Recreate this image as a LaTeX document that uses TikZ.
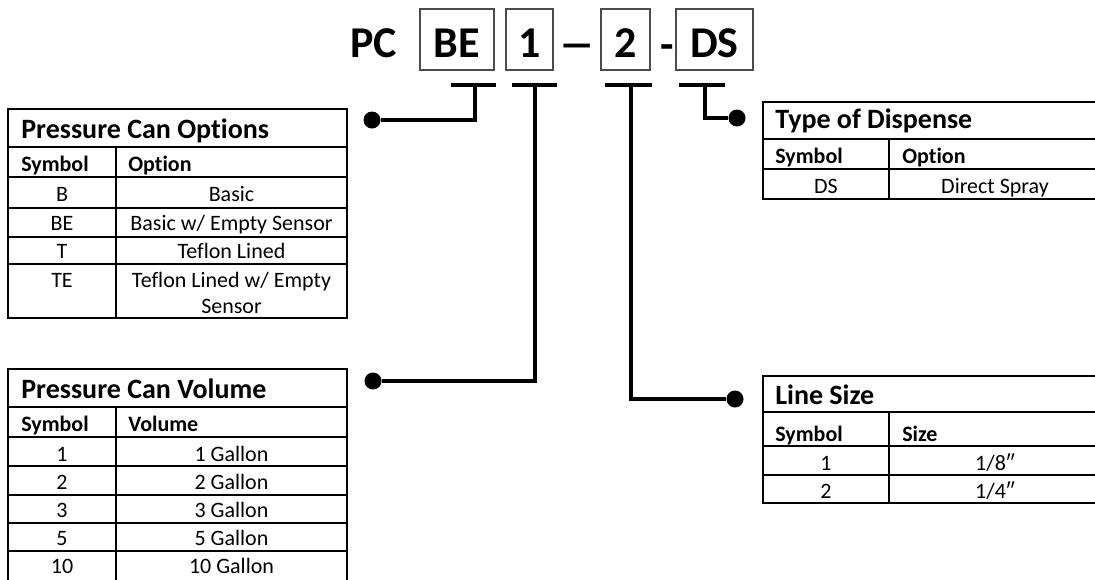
\documentclass[tikz,border=0pt]{standalone}
\usepackage{fontspec}
\setmainfont{Carlito}[Ligatures={NoCommon}]
\usepackage{tikz}

\begin{document}
\begin{tikzpicture}[x=0.75pt,y=-0.75pt,
    code/.style={draw=black!70,line width=1.3pt,inner sep=0pt,minimum height=45.75pt,
      text height=27pt,text depth=0pt,font=\fontsize{33}{36}\selectfont\bfseries},
    codetext/.style={anchor=base,inner sep=0pt,font=\fontsize{33}{36}\selectfont\bfseries},
    conn/.style={line width=3pt},
    dot/.style={circle,fill=black,inner sep=0pt,minimum size=12.75pt},
    frame/.style={line width=2pt},
    rule/.style={line width=1.8pt},
    thin/.style={line width=1.1pt},
    tabtitle/.style={anchor=base west,inner sep=0pt,font=\fontsize{21}{24}\selectfont\bfseries},
    tabhead/.style={anchor=base west,inner sep=0pt,font=\fontsize{16.5}{20}\selectfont\bfseries},
    cell/.style={anchor=base,inner sep=0pt,font=\fontsize{16.5}{20}\selectfont}]
    \path[use as bounding box,clip] (0,0) rectangle (1095,579);

    \node[codetext] (pc) at (373.5,57) {PC};
    \node[code,minimum width=55.5pt] (be) at (457,39.5) {BE};
    \node[code,minimum width=35.25pt] (vol) at (529.5,39.5) {1};
    \node[codetext] (dash1) at (577.5,58.5) {\scalebox{1.7}[1]{–}};
    \node[code,minimum width=36.75pt] (size) at (625.5,39.5) {2};
    \node[codetext] (dash2) at (667,59) {-};
    \node[code,minimum width=57.75pt] (disp) at (714.5,39.5) {DS};

    \node[dot] (dotopt) at (372,120) {};
    \node[dot] (dotvol) at (373,381) {};
    \node[dot] (dotdisp) at (737,118) {};
    \node[dot] (dotsize) at (735,399) {};

    \coordinate (bel) at (451,85);
    \coordinate (ber) at (496,85);
    \coordinate (bem) at (475,85);
    \coordinate (voll) at (512,85);
    \coordinate (volr) at (557,85);
    \coordinate (volm) at (535,85);
    \coordinate (sizel) at (605,85);
    \coordinate (sizer) at (652,85);
    \coordinate (sizem) at (631,85);
    \coordinate (displ) at (679,85);
    \coordinate (dispr) at (725,85);
    \coordinate (dispm) at (705,85);

    \draw[conn] (bel) -- (ber);
    \draw[conn] (bem) |- (dotopt);
    \draw[conn] (voll) -- (volr);
    \draw[conn] (volm) |- (dotvol);
    \draw[conn] (sizel) -- (sizer);
    \draw[conn] (sizem) |- (dotsize);
    \draw[conn] (displ) -- (dispr);
    \draw[conn] (dispm) |- (dotdisp);

    \draw[frame] (8,109) rectangle (347,318);
    \draw[rule] (8,147) -- (347,147);
    \draw[rule] (8,177) -- (347,177);
    \foreach \y in {208,237,264}
        \draw[thin] (8,\y) -- (347,\y);
    \draw[thin] (116,147) -- (116,318);
    \node[tabtitle] (opt-title) at (21,138) {Pressure Can Options};
    \node[tabhead] (opt-sym) at (21,171) {Symbol};
    \node[tabhead] (opt-col) at (128,171) {Option};
    \foreach \s/\t/\y [count=\i] in {B/Basic/201,BE/{Basic w/ Empty Sensor}/230,T/{Teflon Lined}/258,TE/{Teflon Lined w/ Empty}/287} {
        \node[cell] (opt-s\i) at (62,\y) {\s};
        \node[cell] (opt-o\i) at (231.5,\y) {\t};
    }
    \node[cell] (opt-o5) at (231.5,313) {Sensor};

    \draw[frame] (8,369) rectangle (347,582);
    \draw[rule] (8,407) -- (347,407);
    \draw[rule] (8,437) -- (347,437);
    \foreach \y in {466,495,523,551}
        \draw[thin] (8,\y) -- (347,\y);
    \draw[thin] (116,407) -- (116,582);
    \node[tabtitle] (vol-title) at (21,398) {Pressure Can Volume};
    \node[tabhead] (vol-sym) at (21,431) {Symbol};
    \node[tabhead] (vol-col) at (128,431) {Volume};
    \foreach \s/\y [count=\i] in {1/461,2/489,3/517,5/545,10/573} {
        \node[cell] (vol-s\i) at (62,\y) {\s};
        \node[cell] (vol-o\i) at (231.5,\y) {\s\ Gallon};
    }

    \draw[frame] (763,102) rectangle (1101,199);
    \draw[rule] (763,139) -- (1101,139);
    \draw[rule] (763,169) -- (1101,169);
    \draw[thin] (889,139) -- (889,199);
    \node[tabtitle] (disp-title) at (775,128) {Type of Dispense};
    \node[tabhead] (disp-sym) at (775,163) {Symbol};
    \node[tabhead] (disp-col) at (902,163) {Option};
    \node[cell] (disp-s1) at (826,193) {DS};
    \node[cell] (disp-o1) at (995,193) {Direct Spray};

    \draw[frame] (763,376) rectangle (1101,503);
    \draw[rule] (763,412) -- (1101,412);
    \draw[rule] (763,446) -- (1101,446);
    \draw[thin] (763,475) -- (1101,475);
    \draw[thin] (889,412) -- (889,503);
    \node[tabtitle] (size-title) at (775,404) {Line Size};
    \node[tabhead] (size-sym) at (775,441) {Symbol};
    \node[tabhead] (size-col) at (902,441) {Size};
    \node[cell] (size-s1) at (826,470) {1};
    \node[cell] (size-o1) at (995,470) {1/8″};
    \node[cell] (size-s2) at (826,498) {2};
    \node[cell] (size-o2) at (995,498) {1/4″};
\end{tikzpicture}
\end{document}
